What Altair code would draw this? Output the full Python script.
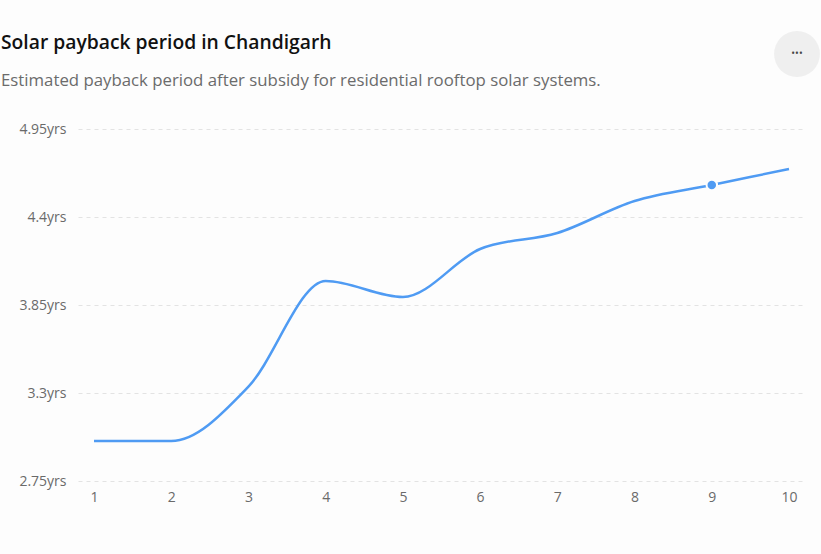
import altair as alt
import pandas as pd

years = [1, 2, 3, 4, 5, 6, 7, 8, 9, 10]
payback = [3.0, 3.0, 3.34, 4.0, 3.9, 4.2, 4.3, 4.5, 4.6, 4.7]
highlight_year = 9
y_ticks = [2.75, 3.3, 3.85, 4.4, 4.95]
title_text = "Solar payback period in Chandigarh"
subtitle_text = "Estimated payback period after subsidy for residential rooftop solar systems."

df = pd.DataFrame({"year": years, "payback": payback})
hl = df[df["year"] == highlight_year]

FONT = "Segoe UI, Open Sans, Noto Sans, sans-serif"
BLUE = "#4f9bf3"

x = alt.X("year:Q", scale=alt.Scale(domain=[1, 10], padding=16, nice=False, zero=False),
          axis=alt.Axis(values=years, format="d", title=None, grid=False, domain=False, ticks=False,
                        labelPadding=9, labelFontSize=14, labelColor="#6a6a6a",
                        labelFont=FONT))
y = alt.Y("payback:Q", scale=alt.Scale(domain=[2.75, 4.95], nice=False, zero=False),
          axis=alt.Axis(values=y_ticks, title=None, domain=False, ticks=False,
                        labelPadding=12, labelFontSize=14, labelColor="#6a6a6a",
                        labelFont=FONT, labelExpr="datum.value + 'yrs'",
                        grid=True, gridDash=[4, 4], gridColor="#e3e3e3", gridWidth=1))

line = alt.Chart(df).mark_line(interpolate="monotone", color=BLUE, strokeWidth=2.5).encode(x=x, y=y)
pt = alt.Chart(hl).mark_point(filled=True, size=110, color=BLUE, stroke="#fdfdfd",
                              strokeWidth=2, opacity=1).encode(x="year:Q", y="payback:Q")

one = pd.DataFrame({"k": [0]})
btn = alt.Chart(one).mark_point(
    filled=True, size=2100, color="#efefef", opacity=1
).encode(x=alt.value(719), y=alt.value(-75))
dots = alt.Chart(one).mark_text(
    text="•••", fontSize=10, color="#444444", font=FONT, baseline="middle"
).encode(x=alt.value(719), y=alt.value(-75))

title = alt.Chart(one).mark_text(
    text=title_text, fontSize=19.3, fontWeight=600, color="#111111", font=FONT,
    align="left", baseline="alphabetic"
).encode(x=alt.value(-77), y=alt.value(-80))
subtitle = alt.Chart(one).mark_text(
    text=subtitle_text, fontSize=16.8, color="#6b6b6b", font=FONT,
    align="left", baseline="alphabetic"
).encode(x=alt.value(-77), y=alt.value(-43))

chart = alt.layer(line, pt, btn, dots, title, subtitle).properties(
    width=727, height=352,
    autosize=alt.AutoSizeParams(type="none"),
    padding={"left": 78, "top": 129, "right": 16, "bottom": 73},
    background="#fdfdfd",
).configure_view(stroke=None)

chart.save("out.html", embed_options={"renderer": "svg", "actions": False})
